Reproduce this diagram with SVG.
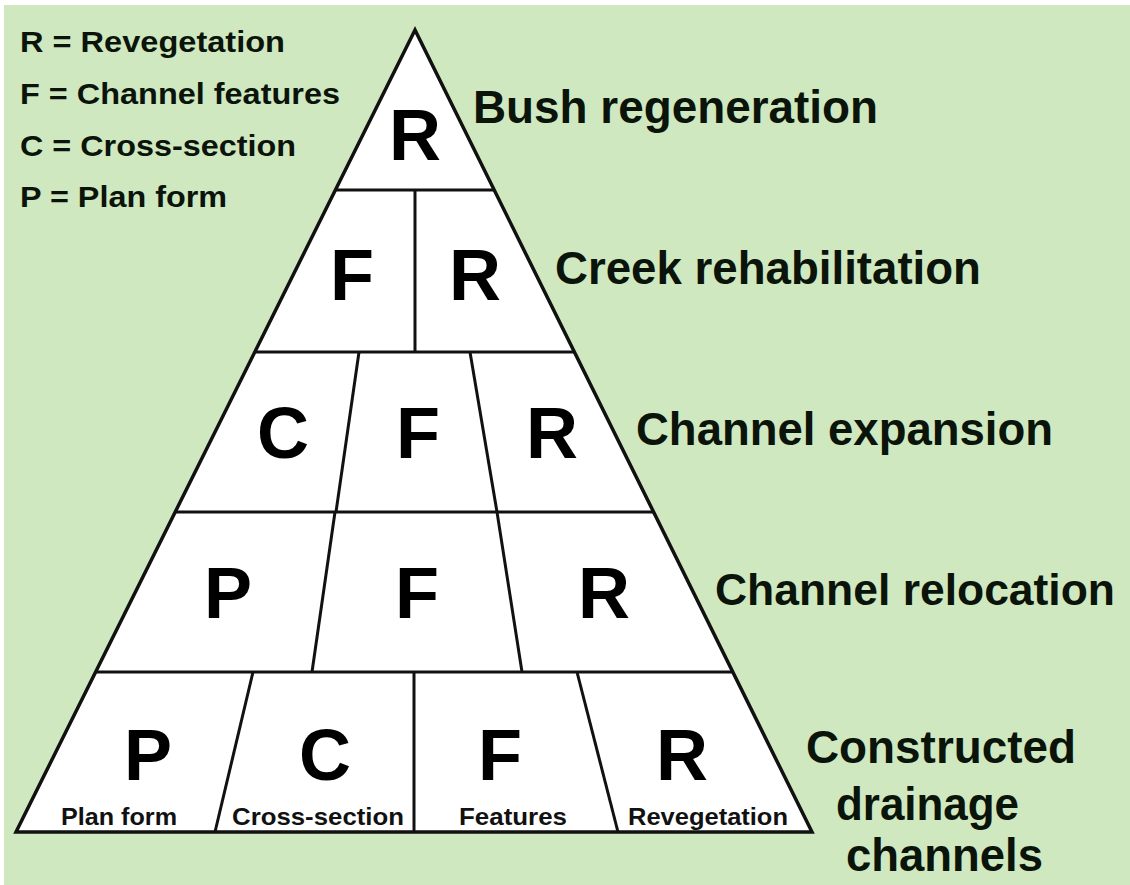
<svg xmlns="http://www.w3.org/2000/svg" width="1130" height="885" viewBox="0 0 1130 885">
<style>
.bg{fill:#d0e8c0}
.cell{fill:#fff;stroke:#111;stroke-width:3.5;stroke-linejoin:miter}
.div{stroke:#111;stroke-width:3;fill:none}
.big{font-family:"Liberation Sans",Arial,sans-serif;font-weight:bold;font-size:72px;fill:#000;text-anchor:middle}
.small{font-family:"Liberation Sans",Arial,sans-serif;font-weight:bold;font-size:24px;fill:#111;text-anchor:middle}
.lab{font-family:"Liberation Sans",Arial,sans-serif;font-weight:bold;font-size:47px;fill:#0a140a}
.lab2{font-size:44px}
.leg{font-family:"Liberation Sans",Arial,sans-serif;font-weight:bold;font-size:30px;fill:#0a140a}
</style>
<rect width="1130" height="885" fill="#ffffff"/>
<rect class="bg" x="4" y="5" width="1126" height="880"/>

<g id="legend">
<text class="leg" x="20" y="52" textLength="265" lengthAdjust="spacingAndGlyphs">R = Revegetation</text>
<text class="leg" x="20" y="104" textLength="320" lengthAdjust="spacingAndGlyphs">F = Channel features</text>
<text class="leg" x="20" y="156" textLength="276" lengthAdjust="spacingAndGlyphs">C = Cross-section</text>
<text class="leg" x="20" y="207" textLength="207" lengthAdjust="spacingAndGlyphs">P = Plan form</text>
</g>

<g id="pyramid">
<polygon class="cell" points="415,30 16,832 812,832"/>
</g>

<g id="connectors">
<line class="div" x1="336" y1="190" x2="494" y2="190"/>
<line class="div" x1="256" y1="352" x2="574" y2="352"/>
<line class="div" x1="176" y1="512" x2="654" y2="512"/>
<line class="div" x1="96" y1="672" x2="733" y2="672"/>
<line class="div" x1="415" y1="190" x2="415" y2="352"/>
<line class="div" x1="359" y1="352" x2="336" y2="512"/>
<line class="div" x1="470" y1="352" x2="497" y2="512"/>
<line class="div" x1="335" y1="512" x2="312" y2="672"/>
<line class="div" x1="497" y1="512" x2="522" y2="672"/>
<line class="div" x1="253" y1="672" x2="215" y2="832"/>
<line class="div" x1="414" y1="672" x2="414" y2="832"/>
<line class="div" x1="577" y1="672" x2="618" y2="832"/>
</g>

<g id="tier1">
<text class="big" x="415" y="160">R</text>
<text class="lab" x="473" y="123" textLength="405" lengthAdjust="spacingAndGlyphs">Bush regeneration</text>
</g>
<g id="tier2">
<text class="big" x="352" y="300">F</text>
<text class="big" x="475" y="300">R</text>
<text class="lab" x="555" y="284" textLength="426" lengthAdjust="spacingAndGlyphs">Creek rehabilitation</text>
</g>
<g id="tier3">
<text class="big" x="283" y="458">C</text>
<text class="big" x="418" y="458">F</text>
<text class="big" x="552" y="458">R</text>
<text class="lab" x="636" y="445" textLength="417" lengthAdjust="spacingAndGlyphs">Channel expansion</text>
</g>
<g id="tier4">
<text class="big" x="228" y="618">P</text>
<text class="big" x="417" y="618">F</text>
<text class="big" x="604" y="618">R</text>
<text class="lab lab2" x="715" y="605" textLength="400" lengthAdjust="spacingAndGlyphs">Channel relocation</text>
</g>
<g id="tier5">
<text class="big" x="148" y="780">P</text>
<text class="big" x="325" y="780">C</text>
<text class="big" x="500" y="780">F</text>
<text class="big" x="682" y="780">R</text>
<text class="small" x="119" y="825" textLength="116" lengthAdjust="spacingAndGlyphs">Plan form</text>
<text class="small" x="318" y="825" textLength="172" lengthAdjust="spacingAndGlyphs">Cross-section</text>
<text class="small" x="513" y="825" textLength="108" lengthAdjust="spacingAndGlyphs">Features</text>
<text class="small" x="708" y="825" textLength="160" lengthAdjust="spacingAndGlyphs">Revegetation</text>
<text class="lab" x="806" y="763" textLength="270" lengthAdjust="spacingAndGlyphs">Constructed</text>
<text class="lab" x="836" y="820" textLength="183" lengthAdjust="spacingAndGlyphs">drainage</text>
<text class="lab" x="846" y="871" textLength="197" lengthAdjust="spacingAndGlyphs">channels</text>
</g>
</svg>
